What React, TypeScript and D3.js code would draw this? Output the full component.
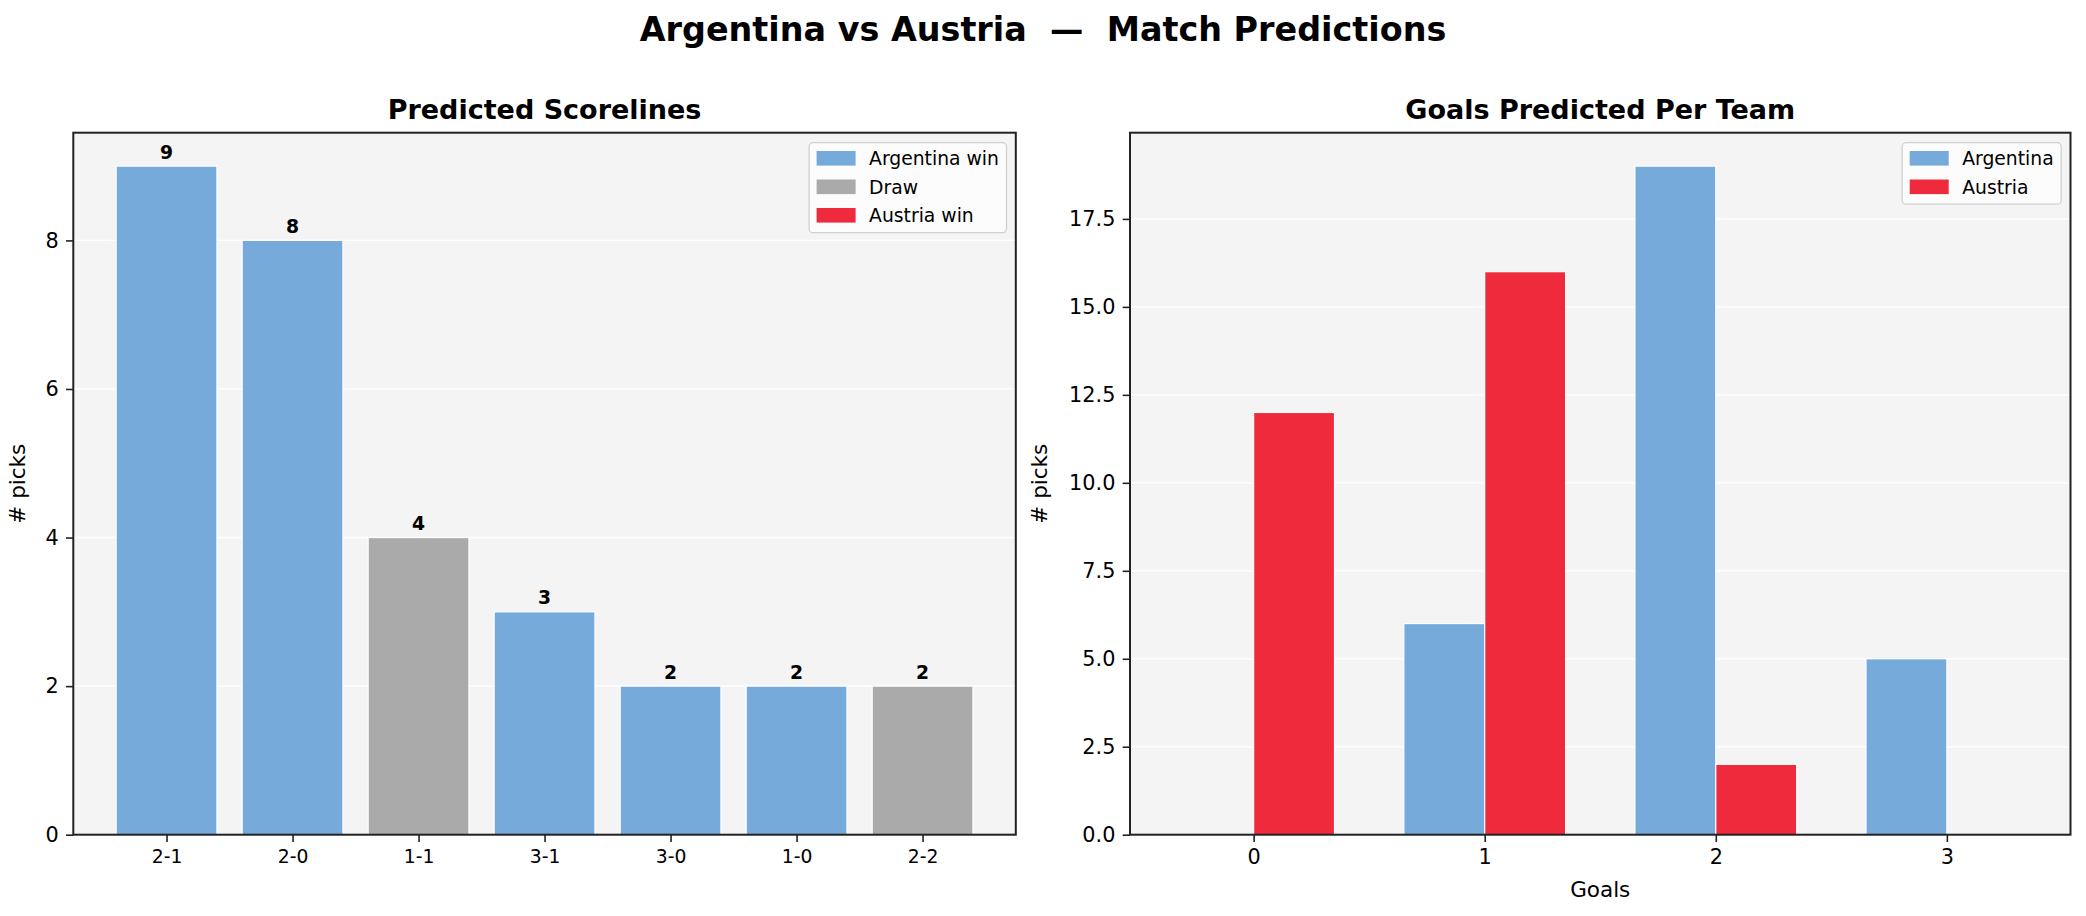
import { useEffect, useRef } from 'react'
import * as d3 from 'd3'

const scorelines = ['2-1', '2-0', '1-1', '3-1', '3-0', '1-0', '2-2']
const scorePicks = [9, 8, 4, 3, 2, 2, 2]
const scoreOutcome = ['arg', 'arg', 'draw', 'arg', 'arg', 'arg', 'draw']

const goals = [0, 1, 2, 3]
const argentinaGoals = [0, 6, 19, 5]
const austriaGoals = [12, 16, 2, 0]

const leftYTicks = [0, 2, 4, 6, 8]
const rightYTicks = [0, 2.5, 5, 7.5, 10, 12.5, 15, 17.5]

const outcomeLegend = [
  { key: 'arg', label: 'Argentina win' },
  { key: 'draw', label: 'Draw' },
  { key: 'aut', label: 'Austria win' },
]
const teamLegend = [
  { key: 'arg', label: 'Argentina' },
  { key: 'aut', label: 'Austria' },
]

const COLORS: Record<string, string> = { arg: '#75aadb', draw: '#aaaaaa', aut: '#ef2a3c' }
const FONT = 'DejaVu Sans, sans-serif'
const BG = '#f4f4f4'
const SPINE = '#222'

export default function App() {
  const svgRef = useRef<SVGSVGElement | null>(null)

  useEffect(() => {
    document.body.style.margin = '0'
    if (!svgRef.current) return
    const root = d3.select(svgRef.current)
    root.selectAll('*').remove()

    root.append('rect').attr('width', 2086).attr('height', 916).attr('fill', '#fff')

    root.append('text')
      .attr('x', 1043).attr('y', 41)
      .attr('text-anchor', 'middle')
      .attr('font-family', FONT).attr('font-size', 33.4).attr('font-weight', 'bold')
      .attr('xml:space', 'preserve')
      .text('Argentina vs Austria  \u2014  Match Predictions')

    const top = 132.7
    const bottom = 834.7

    // draws the frame, grid, y axis, title; returns the group
    function frame(x0: number, x1: number, yScale: d3.ScaleLinear<number, number>, ticks: number[], fmt: (d: number) => string, title: string, ylabelX: number) {
      const g = root.append('g')
      g.append('rect').attr('x', x0).attr('y', top).attr('width', x1 - x0).attr('height', bottom - top).attr('fill', BG)
      g.selectAll('line.grid').data(ticks).join('line')
        .attr('x1', x0).attr('x2', x1)
        .attr('y1', d => yScale(d)).attr('y2', d => yScale(d))
        .attr('stroke', '#fff').attr('stroke-width', 1.4)
      const ax = root.append('g')
        .attr('transform', `translate(${x0},0)`)
        .call(d3.axisLeft(yScale).tickValues(ticks).tickFormat(d => fmt(d as number)).tickSizeOuter(0).tickSize(7.3).tickPadding(7.3))
      ax.select('.domain').remove()
      ax.selectAll('line').attr('stroke', SPINE).attr('stroke-width', 1.6)
      ax.selectAll('text').attr('fill', '#000').attr('font-size', 20.8).attr('font-family', FONT)
      root.append('text')
        .attr('x', (x0 + x1) / 2).attr('y', 119)
        .attr('text-anchor', 'middle')
        .attr('font-family', FONT).attr('font-size', 27).attr('font-weight', 'bold')
        .text(title)
      root.append('text')
        .attr('transform', `translate(${ylabelX},${(top + bottom) / 2}) rotate(-90)`)
        .attr('text-anchor', 'middle')
        .attr('font-family', FONT).attr('font-size', 21.5)
        .text('# picks')
      return g
    }

    function spines(x0: number, x1: number) {
      root.append('rect').attr('x', x0).attr('y', top).attr('width', x1 - x0).attr('height', bottom - top)
        .attr('fill', 'none').attr('stroke', SPINE).attr('stroke-width', 2)
    }

    function legend(x1: number, items: { key: string; label: string }[], boxW: number) {
      const lg = root.append('g')
      const bx = x1 - 9.3 - boxW
      const by = 142.7
      const bh = 4.5 + items.length * 28.5
      lg.append('rect').attr('x', bx).attr('y', by).attr('width', boxW).attr('height', bh)
        .attr('rx', 4).attr('fill', '#fcfcfc').attr('stroke', '#d0d0d0').attr('stroke-width', 1.3)
      items.forEach((it, i) => {
        const cy = 158.3 + i * 28.5
        lg.append('rect').attr('x', bx + 7.5).attr('y', cy - 7.3).attr('width', 39).attr('height', 14.6).attr('fill', COLORS[it.key])
        lg.append('text').attr('x', bx + 60).attr('y', cy + 6.7)
          .attr('font-family', FONT).attr('font-size', 18.75).text(it.label)
      })
    }

    // ---- left: predicted scorelines
    const lx0 = 73.3, lx1 = 1015.8
    const xL = d3.scaleLinear().domain([-0.74, scorelines.length - 1 + 0.74]).range([lx0, lx1])
    const yL = d3.scaleLinear().domain([0, 9.45]).range([bottom, top])
    const gL = frame(lx0, lx1, yL, leftYTicks, d => d3.format('d')(d), 'Predicted Scorelines', 25)

    gL.selectAll('rect.bar').data(scorePicks).join('rect')
      .attr('x', (_, i) => xL(i - 0.4)).attr('width', xL(0.8) - xL(0))
      .attr('y', d => yL(d)).attr('height', d => yL(0) - yL(d))
      .attr('fill', (_, i) => COLORS[scoreOutcome[i]])
      .attr('stroke', '#fff').attr('stroke-width', 1.2)
    gL.selectAll('text.val').data(scorePicks).join('text')
      .attr('x', (_, i) => xL(i)).attr('y', d => yL(d) - 7.6)
      .attr('text-anchor', 'middle')
      .attr('font-family', FONT).attr('font-size', 18.75).attr('font-weight', 'bold')
      .text(d => String(d))

    const axL = root.append('g')
      .attr('transform', `translate(0,${bottom})`)
      .call(d3.axisBottom(xL).tickValues(d3.range(scorelines.length)).tickFormat(d => scorelines[d as number]).tickSizeOuter(0).tickSize(7.3).tickPadding(7.3))
    axL.select('.domain').remove()
    axL.selectAll('line').attr('stroke', SPINE).attr('stroke-width', 1.6)
    axL.selectAll('text').attr('fill', '#000').attr('font-size', 18.75).attr('font-family', FONT)
    spines(lx0, lx1)
    legend(lx1, outcomeLegend, 197.4)

    // ---- right: goals per team
    const rx0 = 1130, rx1 = 2070.5
    const xR = d3.scaleLinear().domain([-0.535, 3.535]).range([rx0, rx1])
    const yR = d3.scaleLinear().domain([0, 19.95]).range([bottom, top])
    const gR = frame(rx0, rx1, yR, rightYTicks, d => d3.format('.1f')(d), 'Goals Predicted Per Team', 1046.7)
    const bw = 0.35

    gR.selectAll('rect.arg').data(argentinaGoals).join('rect')
      .attr('x', (_, i) => xR(goals[i] - bw)).attr('width', xR(bw) - xR(0))
      .attr('y', d => yR(d)).attr('height', d => yR(0) - yR(d))
      .attr('fill', COLORS.arg).attr('stroke', d => d > 0 ? '#fff' : 'none').attr('stroke-width', 1.2)
    gR.selectAll('rect.aut').data(austriaGoals).join('rect')
      .attr('x', (_, i) => xR(goals[i])).attr('width', xR(bw) - xR(0))
      .attr('y', d => yR(d)).attr('height', d => yR(0) - yR(d))
      .attr('fill', COLORS.aut).attr('stroke', d => d > 0 ? '#fff' : 'none').attr('stroke-width', 1.2)

    const axR = root.append('g')
      .attr('transform', `translate(0,${bottom})`)
      .call(d3.axisBottom(xR).tickValues(goals).tickFormat(d => String(d)).tickSizeOuter(0).tickSize(7.3).tickPadding(7.3))
    axR.select('.domain').remove()
    axR.selectAll('line').attr('stroke', SPINE).attr('stroke-width', 1.6)
    axR.selectAll('text').attr('fill', '#000').attr('font-size', 20.8).attr('font-family', FONT)
    root.append('text')
      .attr('x', (rx0 + rx1) / 2).attr('y', 896.7)
      .attr('text-anchor', 'middle')
      .attr('font-family', FONT).attr('font-size', 21.5)
      .text('Goals')
    spines(rx0, rx1)
    legend(rx1, teamLegend, 159)
  }, [])

  return (
    <svg ref={svgRef} width={2086} height={916} style={{ display: 'block', position: 'fixed', left: 0, top: 0 }} />
  )
}
